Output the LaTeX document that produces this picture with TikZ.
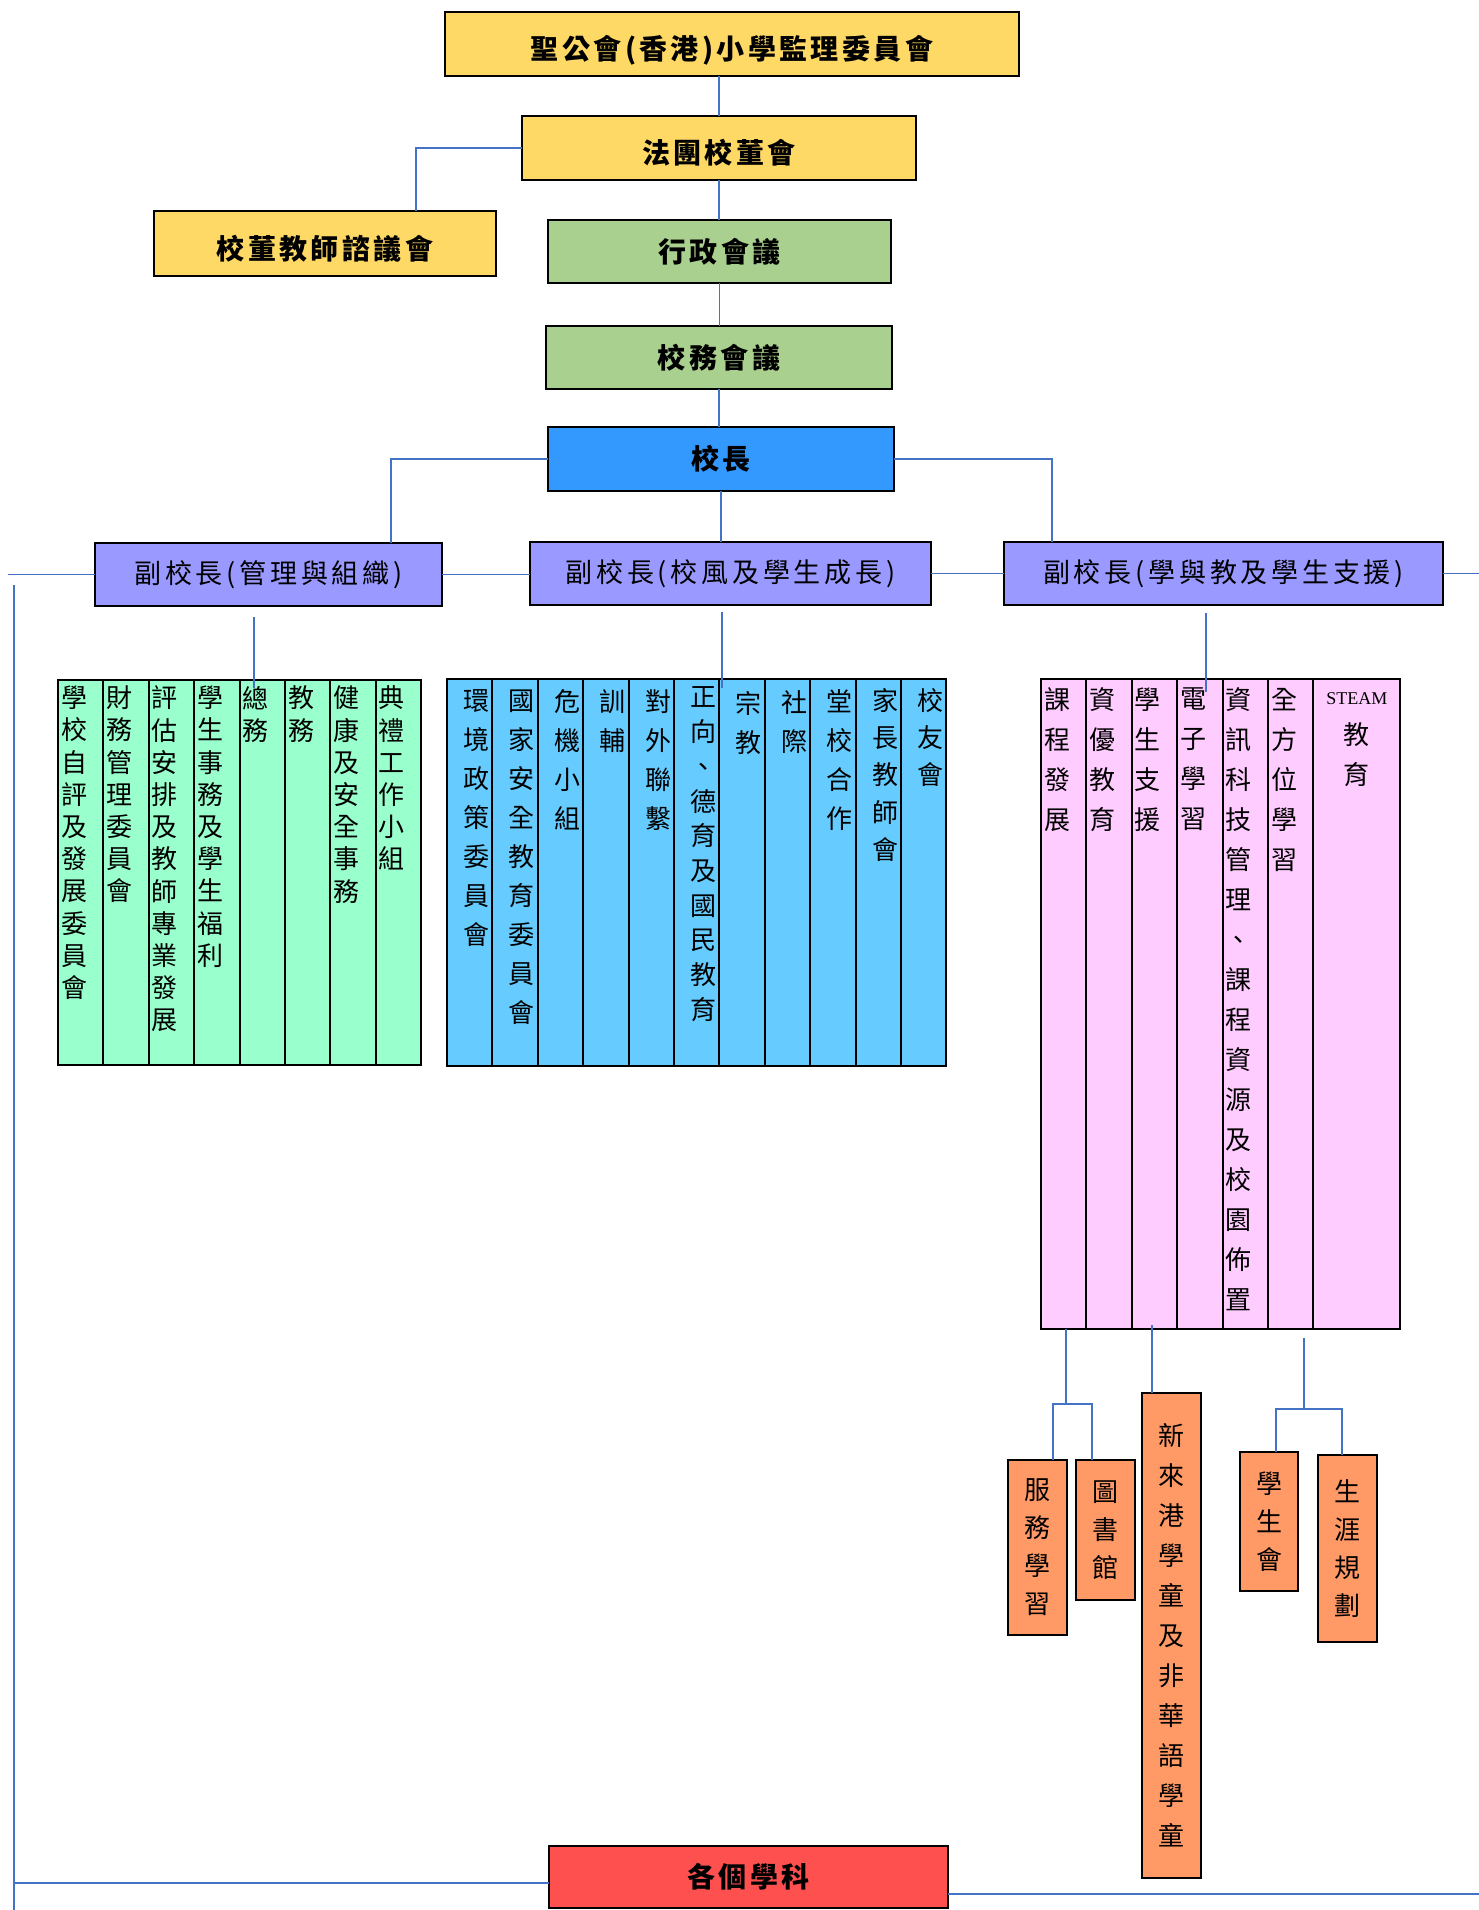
\documentclass[tikz,border=0pt]{standalone}
\usepackage{fontspec}
\setmainfont{Noto Sans CJK TC}
\newfontfamily\steamfont{Liberation Serif}
\usetikzlibrary{calc, positioning}

\definecolor{bdyellow}{HTML}{FFD966}
\definecolor{mtgreen}{HTML}{A9D08E}
\definecolor{headblue}{HTML}{3399FF}
\definecolor{vpurple}{HTML}{9999FF}
\definecolor{mgrgreen}{HTML}{99FFCC}
\definecolor{ethblue}{HTML}{66CCFF}
\definecolor{ltpink}{HTML}{FFCCFF}
\definecolor{supcol}{HTML}{FF9966}
\definecolor{subred}{HTML}{FF5050}
\definecolor{linkblue}{HTML}{4472C4}

\newcommand{\boxfont}{\fontsize{28}{30}\selectfont\bfseries\addfontfeature{LetterSpace=12}}
\newcommand{\vpfont}{\fontsize{27}{30}\selectfont\addfontfeature{LetterSpace=14}}
\newcommand{\colfont}[1]{\fontsize{26}{#1}\selectfont}

\tikzstyle{box}=[draw=black, line width=2.5pt, shape=rectangle, minimum height=63pt, inner sep=0pt, outer sep=0pt, font=\boxfont]
\tikzstyle{lowbox}=[box, text height=33pt, text depth=2pt]
\tikzstyle{vpbox}=[draw=black, line width=2pt, fill=vpurple, shape=rectangle, minimum height=63pt, inner sep=0pt, outer sep=0pt, font=\vpfont]
\tikzstyle{cell}=[draw=black, line width=2pt, shape=rectangle, anchor=north west, minimum width=45.4pt, inner sep=0pt, outer sep=0pt]
\tikzstyle{gcell}=[cell, fill=mgrgreen, minimum height=385pt]
\tikzstyle{bcell}=[cell, fill=ethblue, minimum height=387pt]
\tikzstyle{pcell}=[cell, fill=ltpink, minimum height=650pt]
\tikzstyle{ctext}=[inner sep=0pt, outer sep=0pt, align=center]
\tikzstyle{obox}=[draw=black, line width=2pt, fill=supcol, shape=rectangle, anchor=north, minimum width=59pt, inner sep=0pt, outer sep=0pt, align=center, font=\colfont{38}]
\tikzstyle{conn}=[draw=linkblue, line width=1.4pt]

\begin{document}
\begin{tikzpicture}[x=1pt, y=-1pt]
	\path[fill=white] (0,0) rectangle (1479,1910);
	\useasboundingbox (0,0) rectangle (1479,1910);

	% top of the chart
	\node[lowbox, fill=bdyellow, minimum width=574pt, minimum height=64pt] (sup) at (732,44) {聖公會(香港)小學監理委員會};
	\node[lowbox, fill=bdyellow, minimum width=394pt, minimum height=64pt] (board) at (719,148) {法團校董會};
	\node[lowbox, fill=bdyellow, minimum width=342pt, minimum height=65pt] (iec) at (325,243.5) {校董教師諮議會};
	\node[box, fill=mtgreen, minimum width=343pt] (admin) at (719.5,251.5) {行政會議};
	\node[box, fill=mtgreen, minimum width=346pt] (affairs) at (719,357.5) {校務會議};
	\node[box, fill=headblue, minimum width=346pt, minimum height=64pt] (head) at (721,459) {校長};

	\node[vpbox, minimum width=347pt] (vp1) at (268.5,574.5) {副校長(管理與組織)};
	\node[vpbox, minimum width=401pt] (vp2) at (730.5,573.5) {副校長(校風及學生成長)};
	\node[vpbox, minimum width=439pt] (vp3) at (1223.5,573.5) {副校長(學與教及學生支援)};

	\draw[conn] (sup.south -| board.north) -- (board.north);
	\draw[conn] (board.west) -| ($(iec.north)+(91,0)$);
	\draw[conn] (board.south) -- (board.south |- admin.north);
	\draw[conn] (admin.south) -- (admin.south |- affairs.north);
	\draw[conn] (affairs.south) -- (affairs.south |- head.north);
	\draw[conn] (head.west) -| ($(vp1.north)+(122.5,0)$);
	\draw[conn] (head.east) -| ($(vp3.north)+(-171.5,0)$);
	\draw[conn] (head.south) -- (head.south |- vp2.north);

	\coordinate (lend) at (8,575);
	\coordinate (rend) at (1479,573);
	\draw[conn] (vp1.west) -- (vp1.west -| lend);
	\draw[conn] (vp1.east) -- (vp1.east -| vp2.west);
	\draw[conn] (vp2.east) -- (vp2.east -| vp3.west);
	\draw[conn] (vp3.east) -- (vp3.east -| rend);

	% management
	\node[gcell] (g1) at (58,680) {};
	\node[gcell, right=0pt of g1] (g2) {};
	\node[gcell, right=0pt of g2] (g3) {};
	\node[gcell, right=0pt of g3] (g4) {};
	\node[gcell, right=0pt of g4] (g5) {};
	\node[gcell, right=0pt of g5] (g6) {};
	\node[gcell, right=0pt of g6] (g7) {};
	\node[gcell, right=0pt of g7] (g8) {};

	\node[ctext, font=\colfont{32.2}, below right=6pt and 3pt of g1.north west] (gt1) {學\\校\\自\\評\\及\\發\\展\\委\\員\\會};
	\node[ctext, font=\colfont{32.2}, below right=6pt and 3pt of g2.north west] (gt2) {財\\務\\管\\理\\委\\員\\會};
	\node[ctext, font=\colfont{32.2}, below right=6pt and 3pt of g3.north west] (gt3) {評\\估\\安\\排\\及\\教\\師\\專\\業\\發\\展};
	\node[ctext, font=\colfont{32.2}, below right=6pt and 3pt of g4.north west] (gt4) {學\\生\\事\\務\\及\\學\\生\\福\\利};
	\node[ctext, font=\colfont{32.2}, below right=6pt and 3pt of g5.north west] (gt5) {總\\務};
	\node[ctext, font=\colfont{32.2}, below right=6pt and 3pt of g6.north west] (gt6) {教\\務};
	\node[ctext, font=\colfont{32.2}, below right=6pt and 3pt of g7.north west] (gt7) {健\\康\\及\\安\\全\\事\\務};
	\node[ctext, font=\colfont{32.2}, below right=6pt and 3pt of g8.north west] (gt8) {典\\禮\\工\\作\\小\\組};

	% ethos and growth
	\node[bcell] (b1) at (447,679) {};
	\node[bcell, right=0pt of b1] (b2) {};
	\node[bcell, right=0pt of b2] (b3) {};
	\node[bcell, right=0pt of b3] (b4) {};
	\node[bcell, right=0pt of b4] (b5) {};
	\node[bcell, right=0pt of b5] (b6) {};
	\node[bcell, right=0pt of b6] (b7) {};
	\node[bcell, right=0pt of b7] (b8) {};
	\node[bcell, right=0pt of b8] (b9) {};
	\node[bcell, right=0pt of b9] (b10) {};
	\node[bcell, right=0pt of b10] (b11) {};

	\node[ctext, font=\colfont{39}, below left=11pt and 3pt of b1.north east] (bt1) {環\\境\\政\\策\\委\\員\\會};
	\node[ctext, font=\colfont{39}, below left=11pt and 3pt of b2.north east] (bt2) {國\\家\\安\\全\\教\\育\\委\\員\\會};
	\node[ctext, font=\colfont{39}, below left=11pt and 3pt of b3.north east] (bt3) {危\\機\\小\\組};
	\node[ctext, font=\colfont{39}, below left=11pt and 3pt of b4.north east] (bt4) {訓\\輔};
	\node[ctext, font=\colfont{39}, below left=11pt and 3pt of b5.north east] (bt5) {對\\外\\聯\\繫};
	\node[ctext, font=\colfont{34.7}, below left=8pt and 3pt of b6.north east] (bt6) {正\\向\\、\\德\\育\\及\\國\\民\\教\\育};
	\node[ctext, font=\colfont{39}, below left=12pt and 3pt of b7.north east] (bt7) {宗\\教};
	\node[ctext, font=\colfont{39}, below left=12pt and 3pt of b8.north east] (bt8) {社\\際};
	\node[ctext, font=\colfont{39}, below left=11pt and 3pt of b9.north east] (bt9) {堂\\校\\合\\作};
	\node[ctext, font=\colfont{37.4}, below left=9pt and 3pt of b10.north east] (bt10) {家\\長\\教\\師\\會};
	\node[ctext, font=\colfont{37.4}, below left=9pt and 3pt of b11.north east] (bt11) {校\\友\\會};

	% learning and teaching
	\node[pcell] (p1) at (1041,679) {};
	\node[pcell, right=0pt of p1] (p2) {};
	\node[pcell, right=0pt of p2] (p3) {};
	\node[pcell, right=0pt of p3] (p4) {};
	\node[pcell, right=0pt of p4] (p5) {};
	\node[pcell, right=0pt of p5] (p6) {};
	\node[pcell, minimum width=87pt, right=0pt of p6] (p7) {};

	\node[ctext, font=\colfont{40}, below right=9pt and 3pt of p1.north west] (pt1) {課\\程\\發\\展};
	\node[ctext, font=\colfont{40}, below right=9pt and 3pt of p2.north west] (pt2) {資\\優\\教\\育};
	\node[ctext, font=\colfont{40}, below right=9pt and 3pt of p3.north west] (pt3) {學\\生\\支\\援};
	\node[ctext, font=\colfont{40}, below right=9pt and 3pt of p4.north west] (pt4) {電\\子\\學\\習};
	\node[ctext, font=\colfont{40}, below right=9pt and 3pt of p5.north west] (pt5) {資\\訊\\科\\技\\管\\理\\、\\課\\程\\資\\源\\及\\校\\園\\佈\\置};
	\node[ctext, font=\colfont{40}, below right=9pt and 3pt of p6.north west] (pt6) {全\\方\\位\\學\\習};
	\node[ctext, font=\colfont{40}, below=14pt of p7.north] (pt7) {{\steamfont\fontsize{18}{40}\selectfont STEAM}\\教\\育};

	\coordinate (s1) at (254,617);
	\coordinate (s2) at (722,612);
	\coordinate (s3) at (1206,613);
	\draw[conn] (s1) -- ++(0,71);
	\draw[conn] (s2) -- ++(0,76);
	\draw[conn] (s3) -- ++(0,79);

	% support groups
	\node[obox, minimum height=175pt] (svc) at (1037.5,1460) {服\\務\\學\\習};
	\node[obox, minimum height=140pt] (lib) at (1105.5,1460) {圖\\書\\館};
	\node[obox, minimum height=485pt, font=\colfont{40}] (newc) at (1171.5,1393) {新\\來\\港\\學\\童\\及\\非\\華\\語\\學\\童};
	\node[obox, minimum width=58pt, minimum height=139pt] (stu) at (1269,1452) {學\\生\\會};
	\node[obox, minimum height=187pt] (career) at (1347.5,1455) {生\\涯\\規\\劃};

	\coordinate (k1) at (1066,1329);
	\coordinate (k1j) at (1066,1404);
	\coordinate (k2) at (1304,1338);
	\coordinate (k2j) at (1304,1409);
	\draw[conn] (k1) -- (k1j);
	\draw[conn] ($(svc.north)+(15.5,0)$) |- (k1j) -| ($(lib.north)+(-13.5,0)$);
	\draw[conn] ($(newc.north)+(-19.5,0)$) -- ++(0,-68);
	\draw[conn] (k2) -- (k2j);
	\draw[conn] ($(stu.north)+(7,0)$) |- (k2j) -| ($(career.north)+(-5.5,0)$);

	% subjects
	\node[box, fill=subred, minimum width=399pt, minimum height=62pt] (subj) at (748.5,1877) {各個學科};

	\coordinate (ltop) at (14,585);
	\coordinate (lbot) at (14,1910);
	\coordinate (sl) at ($(subj.west)+(0,6)$);
	\coordinate (sr) at ($(subj.east)+(0,17)$);
	\draw[conn] (ltop) -- (lbot);
	\draw[conn] (sl) -- (sl -| ltop);
	\draw[conn] (sr) -- (sr -| rend);
\end{tikzpicture}
\end{document}
